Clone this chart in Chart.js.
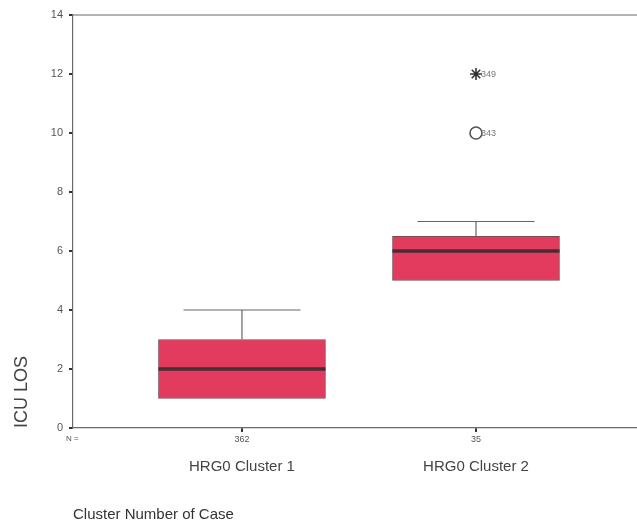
<!DOCTYPE html>
<html>
<head>
<meta charset="utf-8">
<script src="https://cdn.jsdelivr.net/npm/chart.js@4/dist/chart.umd.min.js"></script>
<style>
  html, body { margin: 0; padding: 0; background: #fff; }
</style>
</head>
<body>
<canvas id="boxChart" width="637" height="526"></canvas>
<script>
// groups and their sizes
const categories = ['HRG0 Cluster 1', 'HRG0 Cluster 2'];
const counts = [362, 35];

// box statistics (ICU LOS, days)
const whiskerLow = [1, 5];
const q1 = [1, 5];
const median = [2, 6];
const q3 = [3, 6.5];
const whiskerHigh = [4, 7];

// outliers: extremes (asterisk) and outliers (circle), with case numbers
const extremeCat = [2];
const extremeVal = [12];
const extremeId = ['349'];
const outlierCat = [2];
const outlierVal = [10];
const outlierId = ['343'];

const yTicks = [0, 2, 4, 6, 8, 10, 12, 14];

const textColor = '#555';
const axisColor = '#6a6a6a';
const font = 'Liberation Sans, Arial, sans-serif';

// category positions 1..n on a linear x scale
const catPos = categories.map((c, i) => i + 1);
const setCatTicks = scale => { scale.ticks = catPos.map(v => ({ value: v })); };

// median, whiskers, outlier labels and frame
const boxExtras = {
  id: 'boxExtras',
  afterDatasetsDraw(chart) {
    const { ctx, chartArea } = chart;
    const xs = chart.scales.x, ys = chart.scales.y;
    const boxW = 167, capW = 117;
    ctx.save();
    catPos.forEach((p, i) => {
      const cx = xs.getPixelForValue(p);
      // upper whisker
      ctx.strokeStyle = '#666';
      ctx.lineWidth = 1.2;
      ctx.beginPath();
      ctx.moveTo(cx, ys.getPixelForValue(q3[i]));
      ctx.lineTo(cx, ys.getPixelForValue(whiskerHigh[i]));
      ctx.moveTo(cx - capW / 2, ys.getPixelForValue(whiskerHigh[i]));
      ctx.lineTo(cx + capW / 2, ys.getPixelForValue(whiskerHigh[i]));
      if (whiskerLow[i] < q1[i]) {
        ctx.moveTo(cx, ys.getPixelForValue(q1[i]));
        ctx.lineTo(cx, ys.getPixelForValue(whiskerLow[i]));
        ctx.moveTo(cx - capW / 2, ys.getPixelForValue(whiskerLow[i]));
        ctx.lineTo(cx + capW / 2, ys.getPixelForValue(whiskerLow[i]));
      }
      ctx.stroke();
      // median
      ctx.strokeStyle = '#4a2c33';
      ctx.lineWidth = 3.5;
      ctx.beginPath();
      ctx.moveTo(cx - boxW / 2, ys.getPixelForValue(median[i]));
      ctx.lineTo(cx + boxW / 2, ys.getPixelForValue(median[i]));
      ctx.stroke();
    });
    // case numbers next to outliers
    ctx.fillStyle = '#777';
    ctx.font = '9px ' + font;
    ctx.textBaseline = 'middle';
    ctx.textAlign = 'left';
    [[1, extremeId], [2, outlierId]].forEach(([di, ids]) => {
      chart.getDatasetMeta(di).data.forEach((pt, j) => {
        ctx.fillText(ids[j], pt.x + 5, pt.y + 0.5);
      });
    });
    // top frame line
    ctx.strokeStyle = axisColor;
    ctx.lineWidth = 1.2;
    ctx.beginPath();
    ctx.moveTo(chartArea.left, chartArea.top);
    ctx.lineTo(chartArea.right, chartArea.top);
    ctx.stroke();
    // N =
    ctx.fillStyle = textColor;
    ctx.font = '8px ' + font;
    ctx.fillText('N =', 66, 439);
    ctx.restore();
  }
};

new Chart(document.getElementById('boxChart'), {
  type: 'bar',
  data: {
    datasets: [
      {
        label: 'box',
        data: catPos.map((p, i) => ({ x: p, y: [q1[i], q3[i]] })),
        backgroundColor: '#e33b5e',
        borderColor: '#7a4a55',
        borderWidth: 1,
        borderSkipped: false,
        barThickness: 167,
        grouped: false
      },
      {
        type: 'scatter',
        label: 'extremes',
        data: extremeCat.map((c, i) => ({ x: c, y: extremeVal[i] })),
        pointStyle: 'star',
        radius: 6,
        borderColor: '#333',
        borderWidth: 1.6
      },
      {
        type: 'scatter',
        label: 'outliers',
        data: outlierCat.map((c, i) => ({ x: c, y: outlierVal[i] })),
        pointStyle: 'circle',
        radius: 6,
        backgroundColor: '#fff',
        borderColor: '#555',
        borderWidth: 1.6
      }
    ]
  },
  options: {
    responsive: false,
    animation: false,
    layout: { autoPadding: false, padding: { top: 15, right: 0, left: 0, bottom: 0 } },
    plugins: { legend: { display: false }, tooltip: { enabled: false } },
    scales: {
      x: {
        type: 'linear',
        position: 'bottom',
        offset: false,
        min: 0.278,
        max: 2.688,
        afterBuildTicks: setCatTicks,
        afterFit: s => { s.height = 20; s.paddingRight = 0; },
        grid: { offset: false, drawOnChartArea: false, tickLength: 4, color: '#333', lineWidth: 2 },
        border: { color: axisColor, width: 1.2 },
        ticks: {
          padding: 2,
          maxRotation: 0,
          color: textColor,
          font: { family: font, size: 9 },
          callback: v => counts[v - 1]
        }
      },
      x2: {
        type: 'linear',
        position: 'bottom',
        offset: false,
        min: 0.278,
        max: 2.688,
        afterBuildTicks: setCatTicks,
        afterFit: s => { s.height = 78; s.paddingRight = 0; s.paddingLeft = 0; },
        grid: { display: false, drawTicks: false, offset: false },
        border: { display: false },
        ticks: {
          padding: 10,
          maxRotation: 0,
          color: '#444',
          font: { family: font, size: 15 },
          callback: v => categories[v - 1]
        },
        title: {
          display: true,
          text: 'Cluster Number of Case',
          align: 'start',
          color: '#333',
          font: { family: font, size: 15 },
          padding: { top: 0, bottom: 2 }
        }
      },
      y: {
        min: 0,
        max: 14,
        afterBuildTicks: s => { s.ticks = yTicks.map(v => ({ value: v })); },
        afterFit: s => { s.width = 73; },
        grid: { drawOnChartArea: false, tickLength: 4, color: '#333', lineWidth: 2 },
        border: { color: axisColor, width: 1.2 },
        ticks: {
          padding: 6,
          color: textColor,
          font: { family: font, size: 11 }
        },
        title: {
          display: true,
          text: 'ICU LOS',
          align: 'start',
          color: '#444',
          font: { family: font, size: 18 },
          padding: { top: 11, bottom: 0 }
        }
      }
    }
  },
  plugins: [boxExtras]
});
</script>
</body>
</html>
